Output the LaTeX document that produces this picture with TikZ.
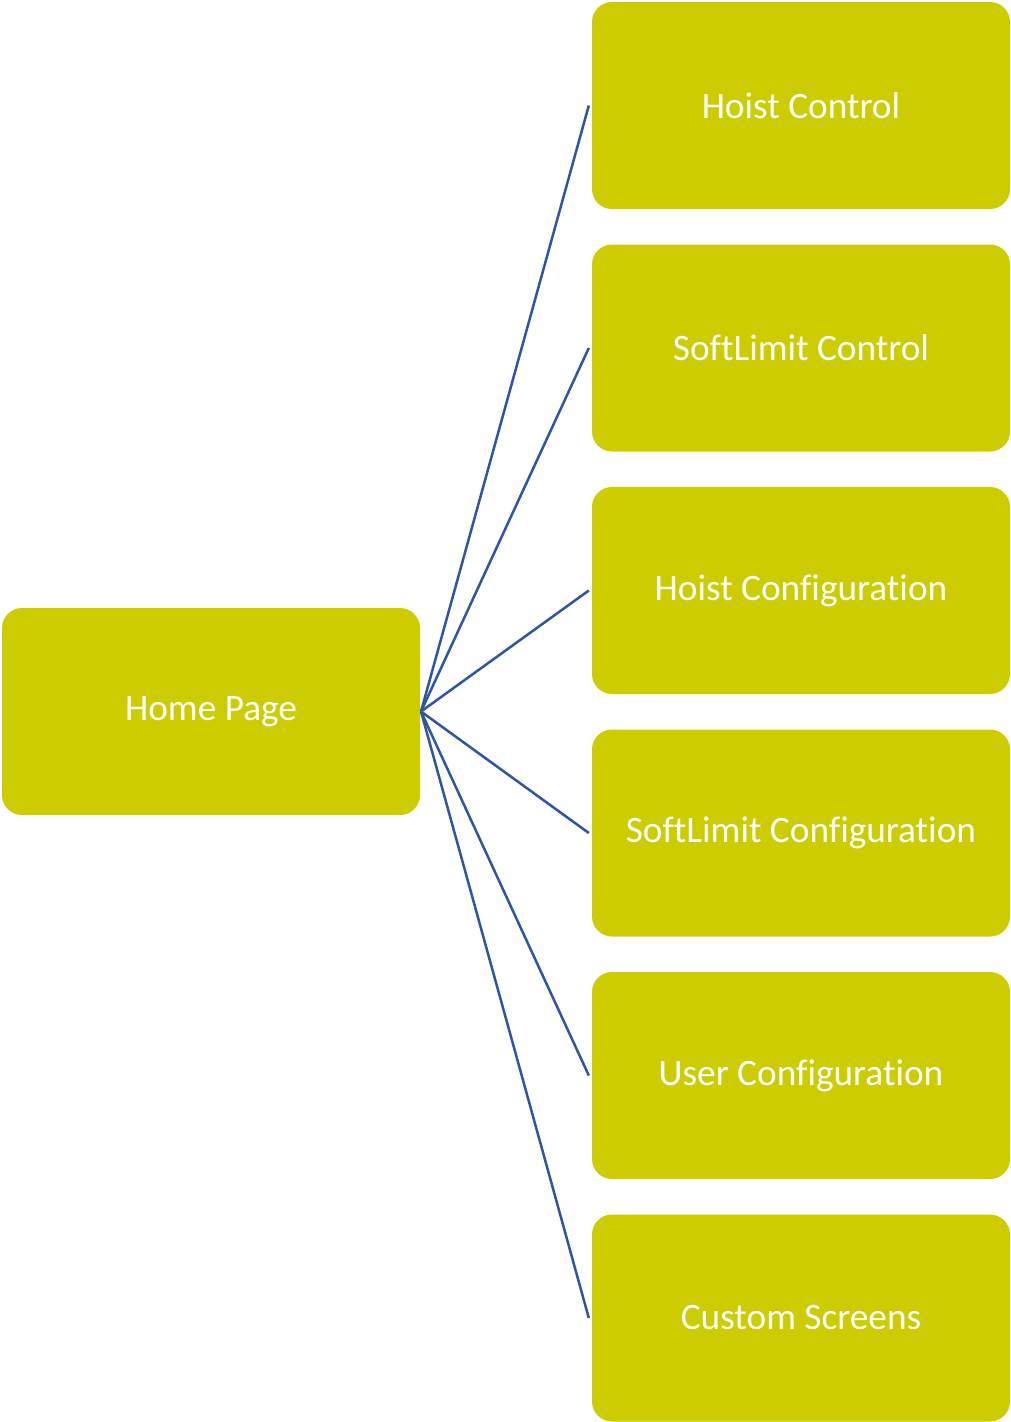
\documentclass[tikz,border=0pt]{standalone}
\usepackage{fontspec}
\setmainfont[Ligatures={NoCommon}]{Carlito}
\definecolor{boxfill}{RGB}{204,204,0}
\definecolor{linkblue}{RGB}{47,85,160}
\begin{document}
\begin{tikzpicture}[x=1pt,y=-1pt,
  pagebox/.style={fill=boxfill, draw=none, rounded corners=20pt,
    minimum width=418pt, minimum height=207pt, inner sep=0pt,
    text=white, font=\fontsize{37.3}{40}\selectfont},
  link/.style={draw=linkblue, line width=2.5pt}]
  \useasboundingbox (0,0) rectangle (1011,1422);
  % root page
  \node[pagebox] (home) at (211,711.5) {Home Page};
  \coordinate (hub) at (421,711.5);
  % child pages
  \node[pagebox] (hc) at (801,105.5) {Hoist Control};
  \node[pagebox] (sc) at (801,348) {SoftLimit Control};
  \node[pagebox] (hcfg) at (801,590.5) {Hoist Configuration};
  \node[pagebox] (scfg) at (801,833) {SoftLimit Configuration};
  \node[pagebox] (ucfg) at (801,1075.5) {User Configuration};
  \node[pagebox] (cs) at (801,1318) {Custom Screens};
  % connectors
  \foreach \n in {hc,sc,hcfg,scfg,ucfg,cs}
    \draw[link] (hub) -- ([xshift=-3pt]\n.west);
\end{tikzpicture}
\end{document}
